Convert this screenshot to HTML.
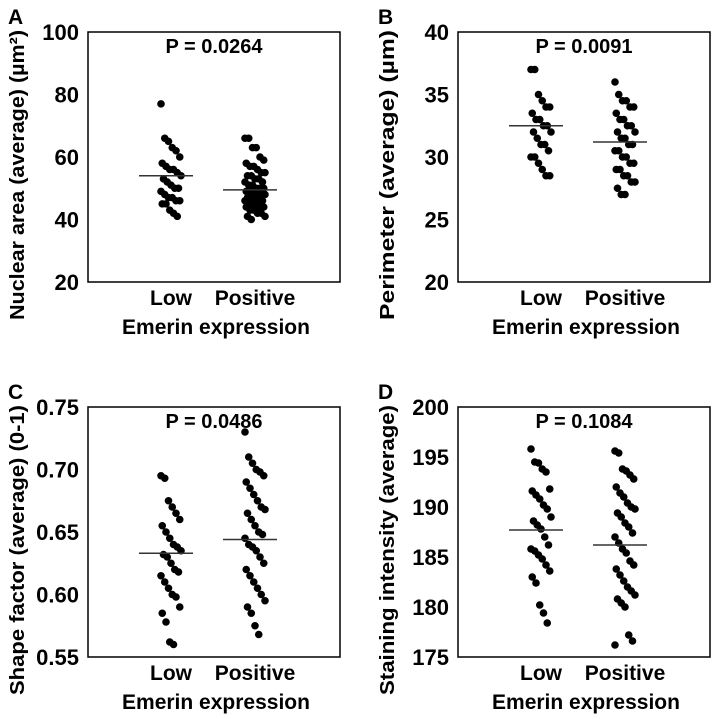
<!DOCTYPE html>
<html><head><meta charset="utf-8"><style>
html,body{margin:0;padding:0;background:#fff}
svg{display:block;font-family:"Liberation Sans",Arial,sans-serif;font-weight:bold}
</style></head><body>
<svg id="fig" width="718" height="719" viewBox="0 0 718 719"></svg>
<script>
const categories = ["Low","Positive"];
const panelLetters = ["A","B","C","D"];
const yTitles = ["Nuclear area (average) (µm²)","Perimeter (average) (µm)","Shape factor (average) (0-1)","Staining intensity (average)"];
const pValues = ["P = 0.0264","P = 0.0091","P = 0.0486","P = 0.1084"];
const tickLabelsA = ["20","40","60","80","100"];
const tickLabelsB = ["20","25","30","35","40"];
const tickLabelsC = ["0.55","0.60","0.65","0.70","0.75"];
const tickLabelsD = ["175","180","185","190","195","200"];
const rangeA = [20,100], rangeB = [20,40], rangeC = [0.55,0.75], rangeD = [175,200];
const lowA = [77,66,65,63,62,60,58,57,56,56,55,54,53,52,51,50,50,49,48,47,47,46,46,45,45,43,42,41];
const posA = [66,66,63,63,60,59,58,57,57,56,55,55,54,54,53,53,52,52,51,51,50,50,50,49,49,49,48,48,48,47,47,47,46,46,46,45,45,45,44,44,44,43,43,42,42,41,41,40];
const meanA = [54,49.5];
const lowB = [37,37,35,34.5,34,34,33.5,33,33,32.5,32.5,32,32,31.5,31,31,30.5,30,30,29.5,29,28.5,28.5];
const posB = [36,35,34.5,34.5,34,34,33.5,33,33,32.5,32.5,32,32,31.5,31.5,31,31,30.5,30.5,30,30,29.5,29.5,29,29,28.5,28.5,28,28,27.5,27,27];
const meanB = [32.5,31.2];
const lowC = [0.695,0.693,0.675,0.67,0.665,0.66,0.655,0.65,0.645,0.64,0.638,0.635,0.632,0.63,0.625,0.62,0.618,0.615,0.61,0.605,0.60,0.598,0.59,0.585,0.578,0.562,0.560];
const posC = [0.73,0.71,0.705,0.70,0.698,0.695,0.69,0.685,0.68,0.675,0.67,0.668,0.665,0.66,0.655,0.65,0.648,0.645,0.64,0.638,0.635,0.63,0.625,0.62,0.615,0.61,0.605,0.60,0.595,0.59,0.585,0.575,0.568];
const meanC = [0.633,0.644];
const lowD = [195.8,194.5,194.4,193.8,193.5,191.8,191.6,191.2,190.8,190.2,189.8,189,188.6,188.2,187.8,187,186.2,185.8,185.6,185.2,184.8,184.2,183.6,183,182.4,180.2,179.4,178.4];
const posD = [195.6,195.4,193.8,193.6,193.2,192.8,192,191.4,191,190.4,190,189.8,189.4,189,188.4,188,187.4,187,186.4,185.8,185.4,184.6,184.2,183.8,183.2,182.6,182,181.6,181.2,180.8,180.4,180,177.2,176.6,176.2];
const meanD = [187.7,186.2];

const NS = "http://www.w3.org/2000/svg";
const svg = document.getElementById("fig");
function mk(tag, attrs, parent, text){
  const e = document.createElementNS(NS, tag);
  for (const k in attrs) e.setAttribute(k, attrs[k]);
  if (text !== undefined) e.textContent = text;
  parent.appendChild(e); return e;
}
function panel(idx, ox, oy, ticks, range, series, means){
  const L = ox, R = ox + 252, T = oy, B = oy + 250;
  const g = mk("g", {}, svg);
  
  
  const y = v => B - (v - range[0]) / (range[1] - range[0]) * (B - T);
  const xc = [L + 83, L + 167];
  const letter = mk("text", {x: L - 80, y: T - 8, "font-size": 21}, g, panelLetters[idx]);
  
  
  const box = mk("rect", {x: L, y: T, width: R - L, height: B - T, fill: "none", stroke: "#000", "stroke-width": 1.5}, g);
  
  
  ticks.forEach(t => {
    const tl = mk("text", {x: L - 9, y: y(parseFloat(t)) + 8, "text-anchor": "end", "font-size": 22}, g, t);
    
    
  });
  const cy = (T + B) / 2;
  const yt = mk("text", {x: 0, y: 0, "text-anchor": "middle", "font-size": 20, textLength: 290, lengthAdjust: "spacingAndGlyphs", transform: `translate(${L - 64},${cy + 18}) rotate(-90)`}, g, yTitles[idx]);
  
  
  const p = mk("text", {x: (L + R) / 2, y: T + 21, "text-anchor": "middle", "font-size": 20}, g, pValues[idx]);
  
  
  series.forEach((vals, s) => {
    vals.forEach((v, i) => {
      const jit = ((i * 37) % 17) - 8;
      const c = mk("circle", {cx: xc[s] + jit * 1.25, cy: y(v), r: 3.8, fill: "#000"}, g);
      
      
    });
    const ml = mk("line", {x1: xc[s] - 32, x2: xc[s] + 22, y1: y(means[s]), y2: y(means[s]), stroke: "#333", "stroke-width": 1.5}, g);
    
    
    const cl = mk("text", {x: xc[s], y: B + 23, "text-anchor": "middle", "font-size": 21}, g, categories[s]);
    
    
  });
  const xt = mk("text", {x: (L + R) / 2 + 2, y: B + 52, "text-anchor": "middle", "font-size": 21}, g, "Emerin expression");
  
  
}
panel(0, 88, 32, tickLabelsA, rangeA, [lowA, posA], meanA);
panel(1, 458, 32, tickLabelsB, rangeB, [lowB, posB], meanB);
panel(2, 88, 407, tickLabelsC, rangeC, [lowC, posC], meanC);
panel(3, 458, 407, tickLabelsD, rangeD, [lowD, posD], meanD);
</script>
</body></html>
